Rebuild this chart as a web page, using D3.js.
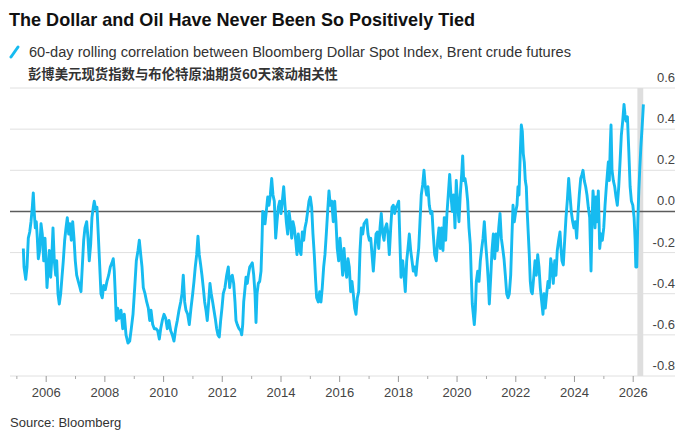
<!DOCTYPE html>
<html>
<head>
<meta charset="utf-8">
<script src="https://cdn.jsdelivr.net/npm/d3@7"></script>
<style>
  html, body { margin: 0; padding: 0; background: #fff; }
  svg { display: block; font-family: "Liberation Sans", Arial, sans-serif; }
</style>
</head>
<body>
<div id="chart"></div>
<script>
// texts
var title = "The Dollar and Oil Have Never Been So Positively Tied";
var legendEn = "60-day rolling correlation between Bloomberg Dollar Spot Index, Brent crude futures";
var legendZh = "彭博美元现货指数与布伦特原油期货60天滚动相关性";
var source = "Source: Bloomberg";

// axes
var yTicks = [-0.8, -0.6, -0.4, -0.2, 0, 0.2, 0.4, 0.6];
var yTickLabels = ["-0.8", "-0.6", "-0.4", "-0.2", "0.0", "0.2", "0.4", "0.6"];
var xMajorYears = [2006, 2008, 2010, 2012, 2014, 2016, 2018, 2020, 2022, 2024, 2026];
var xMinorYears = [2005, 2007, 2009, 2011, 2013, 2015, 2017, 2019, 2021, 2023, 2025];

// shaded period (decimal years)
var highlight = [2026.16, 2026.36];

// observation dates, decimal years
var obsYears = [
  2005.237,2005.261,2005.319,2005.363,2005.407,2005.455,2005.499,2005.543,2005.577,2005.612,2005.646,2005.680,2005.714,2005.748,2005.795,2005.840,2005.884,2005.932,2005.976,
  2006.010,2006.044,2006.089,2006.123,2006.170,2006.204,2006.249,2006.293,2006.341,2006.375,2006.419,2006.463,2006.511,2006.555,2006.600,2006.647,2006.692,2006.736,2006.784,2006.828,2006.872,2006.920,2006.964,
  2007.009,2007.056,2007.111,2007.169,2007.203,2007.247,2007.295,2007.339,2007.397,2007.441,2007.485,2007.533,2007.577,2007.622,2007.656,2007.704,2007.748,2007.792,2007.840,2007.884,2007.928,2007.976,
  2008.031,2008.089,2008.147,2008.201,2008.259,2008.303,2008.337,2008.371,2008.406,2008.453,2008.497,2008.566,2008.624,2008.678,2008.736,2008.804,2008.862,2008.916,2008.974,
  2009.032,2009.087,2009.145,2009.189,2009.237,2009.281,2009.325,2009.383,2009.441,2009.496,2009.543,2009.588,2009.646,2009.700,2009.758,2009.816,2009.871,2009.918,2009.973,
  2010.031,2010.089,2010.143,2010.201,2010.259,2010.314,2010.371,2010.429,2010.484,2010.542,2010.600,2010.644,2010.688,2010.736,2010.780,2010.838,2010.893,2010.951,
  2011.009,2011.053,2011.097,2011.145,2011.189,2011.233,2011.281,2011.325,2011.370,2011.417,2011.462,2011.506,2011.554,2011.598,2011.642,2011.690,2011.734,2011.779,2011.826,2011.871,2011.915,2011.963,
  2012.007,2012.051,2012.109,2012.167,2012.222,2012.269,2012.313,2012.358,2012.405,2012.450,2012.484,2012.528,2012.586,2012.644,2012.678,2012.712,2012.746,2012.780,2012.825,2012.869,2012.903,2012.951,2012.995,
  2013.039,2013.087,2013.131,2013.165,2013.199,2013.244,2013.291,2013.336,2013.370,2013.394,2013.428,2013.472,2013.516,2013.564,2013.608,2013.653,2013.700,2013.744,2013.789,2013.836,2013.881,2013.925,2013.973,
  2014.017,2014.061,2014.109,2014.153,2014.198,2014.245,2014.290,2014.334,2014.382,2014.426,2014.470,2014.518,2014.562,2014.607,2014.654,2014.699,2014.743,2014.791,2014.835,2014.879,2014.927,2014.971,
  2015.015,2015.063,2015.107,2015.152,2015.199,2015.233,2015.288,2015.336,2015.380,2015.424,2015.472,2015.516,2015.561,2015.608,2015.653,2015.697,2015.745,2015.799,2015.847,2015.891,2015.935,2015.983,
  2016.027,2016.072,2016.119,2016.164,2016.208,2016.256,2016.300,2016.344,2016.392,2016.436,2016.481,2016.528,2016.572,2016.617,2016.664,2016.709,2016.753,2016.801,2016.845,2016.889,2016.937,2016.981,
  2017.026,2017.073,2017.118,2017.162,2017.210,2017.254,2017.298,2017.346,2017.390,2017.434,2017.482,2017.527,2017.571,2017.619,2017.663,2017.707,2017.755,2017.799,2017.843,2017.891,2017.935,2017.980,
  2018.027,2018.072,2018.106,2018.164,2018.208,2018.252,2018.300,2018.344,2018.389,2018.436,2018.481,2018.525,2018.572,2018.617,2018.661,2018.709,2018.753,2018.797,2018.845,2018.889,2018.934,2018.981,
  2019.026,2019.070,2019.118,2019.162,2019.206,2019.254,2019.309,2019.356,2019.400,2019.445,2019.492,2019.537,2019.581,2019.629,2019.673,2019.717,2019.765,2019.809,2019.854,2019.901,2019.946,2019.990,
  2020.038,2020.082,2020.126,2020.174,2020.208,2020.242,2020.286,2020.331,2020.378,2020.423,2020.467,2020.501,2020.535,2020.569,2020.603,2020.637,2020.672,2020.719,2020.763,2020.808,2020.855,2020.900,2020.944,2020.992,
  2021.036,2021.080,2021.114,2021.162,2021.206,2021.251,2021.298,2021.343,2021.387,2021.435,2021.479,2021.523,2021.571,2021.615,2021.660,2021.707,2021.752,2021.796,2021.843,2021.888,2021.922,2021.966,
  2022.014,2022.058,2022.092,2022.126,2022.171,2022.205,2022.239,2022.273,2022.307,2022.341,2022.375,2022.409,2022.443,2022.477,2022.511,2022.545,2022.580,2022.627,2022.672,2022.716,2022.764,2022.808,2022.852,2022.900,2022.944,2022.978,
  2023.023,2023.070,2023.115,2023.159,2023.207,2023.251,2023.295,2023.343,2023.387,2023.431,2023.479,2023.524,2023.558,2023.592,2023.636,2023.684,2023.728,2023.772,2023.820,2023.864,2023.908,2023.956,
  2024.001,2024.045,2024.093,2024.137,2024.181,2024.229,2024.273,2024.307,2024.351,2024.399,2024.443,2024.488,2024.535,2024.580,2024.614,2024.648,2024.682,2024.716,2024.750,2024.784,2024.828,2024.876,2024.921,2024.965,
  2025.013,2025.057,2025.101,2025.135,2025.169,2025.203,2025.237,2025.261,2025.295,2025.340,2025.387,2025.431,2025.476,2025.524,2025.568,2025.612,2025.660,2025.704,2025.738,2025.772,2025.820,2025.868,2025.912,2025.956,
  2026.004,2026.048,2026.082,2026.106,2026.140,2026.174,2026.208,2026.242,2026.277,2026.321,2026.365
];

// 60-day rolling correlation
var corrValues = [
  -0.18,-0.27,-0.33,-0.27,-0.13,-0.10,-0.05,0.02,0.09,-0.01,-0.08,-0.05,-0.13,-0.23,-0.19,-0.06,-0.11,-0.24,-0.13,
  -0.24,-0.37,-0.27,-0.19,-0.32,-0.24,-0.08,-0.24,-0.31,-0.24,-0.40,-0.45,-0.40,-0.32,-0.24,-0.14,-0.08,-0.03,-0.11,-0.06,-0.14,-0.05,-0.13,
  -0.24,-0.31,-0.34,-0.37,-0.39,-0.27,-0.14,-0.08,-0.05,-0.13,-0.24,-0.16,-0.03,0.02,0.05,0.01,0.02,-0.11,-0.26,-0.40,-0.42,-0.36,
  -0.38,-0.34,-0.31,-0.27,-0.25,-0.23,-0.29,-0.40,-0.53,-0.47,-0.52,-0.48,-0.57,-0.50,-0.60,-0.64,-0.63,-0.57,-0.50,
  -0.37,-0.24,-0.19,-0.14,-0.21,-0.27,-0.37,-0.40,-0.44,-0.47,-0.53,-0.48,-0.55,-0.57,-0.57,-0.58,-0.62,-0.57,-0.53,
  -0.50,-0.52,-0.57,-0.53,-0.58,-0.60,-0.63,-0.57,-0.53,-0.48,-0.44,-0.40,-0.31,-0.44,-0.48,-0.50,-0.55,-0.47,
  -0.40,-0.34,-0.27,-0.21,-0.12,-0.21,-0.26,-0.31,-0.37,-0.44,-0.48,-0.53,-0.44,-0.35,-0.40,-0.44,-0.48,-0.52,-0.57,-0.60,-0.61,-0.53,
  -0.47,-0.40,-0.37,-0.31,-0.27,-0.37,-0.32,-0.31,-0.35,-0.44,-0.53,-0.55,-0.57,-0.58,-0.60,-0.55,-0.44,-0.39,-0.32,-0.35,-0.31,-0.27,-0.26,
  -0.25,-0.31,-0.40,-0.54,-0.40,-0.35,-0.34,-0.29,-0.14,0.00,-0.01,-0.06,0.00,0.07,0.03,0.08,0.16,0.08,0.05,-0.13,-0.05,0.02,0.05,
  -0.01,0.05,0.12,0.03,-0.05,-0.11,0.00,-0.05,-0.13,-0.05,-0.08,-0.14,-0.21,-0.11,-0.19,-0.21,-0.10,-0.14,-0.08,-0.05,0.00,0.05,
  0.07,0.02,-0.11,-0.21,-0.34,-0.42,-0.44,-0.39,-0.44,-0.37,-0.27,-0.21,-0.11,0.00,0.10,0.03,0.05,-0.05,0.05,-0.05,-0.18,-0.24,
  -0.13,-0.21,-0.31,-0.18,-0.27,-0.32,-0.23,-0.27,-0.39,-0.34,-0.40,-0.47,-0.50,-0.42,-0.39,-0.19,-0.08,-0.11,-0.06,-0.05,-0.04,-0.11,
  -0.14,-0.13,-0.21,-0.29,-0.19,-0.11,-0.10,-0.18,-0.08,-0.01,-0.11,-0.14,-0.08,-0.06,-0.11,-0.21,-0.08,0.02,0.03,-0.01,0.02,0.03,
  0.05,-0.16,-0.32,-0.24,-0.31,-0.39,-0.24,-0.18,-0.11,-0.19,-0.24,-0.29,-0.27,-0.31,-0.24,-0.18,-0.05,0.08,0.13,0.20,0.12,0.08,
  0.12,0.03,-0.01,0.00,-0.11,-0.21,-0.24,-0.14,-0.08,-0.18,-0.08,-0.19,-0.03,-0.14,-0.01,0.08,0.18,0.08,0.00,0.08,-0.08,0.15,
  0.03,-0.05,0.08,0.18,0.27,0.15,0.16,0.12,0.05,-0.08,-0.16,-0.32,-0.45,-0.50,-0.55,-0.48,-0.34,-0.29,-0.34,-0.24,-0.18,-0.13,-0.05,-0.16,
  -0.24,-0.34,-0.45,-0.32,-0.19,-0.11,-0.23,-0.11,-0.19,-0.08,-0.01,-0.13,-0.18,-0.23,-0.31,-0.40,-0.42,-0.40,-0.31,-0.11,0.03,-0.05,
  0.00,0.03,0.12,0.08,0.29,0.42,0.39,0.28,0.24,0.15,0.12,-0.01,-0.11,-0.21,-0.34,-0.39,-0.40,-0.32,-0.24,-0.31,-0.21,-0.27,-0.37,-0.44,-0.50,-0.40,
  -0.47,-0.40,-0.34,-0.37,-0.23,-0.27,-0.35,-0.24,-0.31,-0.19,-0.14,-0.10,-0.18,-0.24,-0.26,-0.14,-0.03,0.05,0.16,0.08,0.00,-0.05,
  -0.08,-0.05,-0.13,-0.01,0.08,0.16,0.18,0.20,0.15,0.12,0.08,0.02,-0.03,-0.29,-0.05,0.10,0.03,-0.08,0.07,-0.05,0.10,-0.18,-0.11,-0.14,
  -0.08,0.03,0.12,0.18,0.24,0.15,0.33,0.42,0.20,0.15,0.12,0.07,0.03,0.12,0.24,0.37,0.44,0.52,0.47,0.44,0.46,0.29,0.12,0.05,
  0.03,-0.03,-0.14,-0.27,-0.27,-0.05,0.10,0.21,0.31,0.41,0.52
];

if (obsYears.length !== corrValues.length) console.error("length mismatch", obsYears.length, corrValues.length);

function yearToDate(yf) {
  var yr = Math.floor(yf);
  var start = new Date(yr, 0, 1), end = new Date(yr + 1, 0, 1);
  return new Date(+start + (yf - yr) * (end - start));
}

var W = 700, H = 432;
var gridLeft = 10, gridRight = 675;
var cyan = "#16bbf0";

var svg = d3.select("#chart").append("svg")
  .attr("width", W)
  .attr("height", H);

var x = d3.scaleTime()
  .domain([yearToDate(2006), yearToDate(2026)])
  .range([45.7, 632.7]);
var y = d3.scaleLinear()
  .domain([-0.8, 0.6])
  .range([376, 88]);

// gridlines
svg.append("g").selectAll("line")
  .data(yTicks.filter(function (v) { return v !== 0; }))
  .enter().append("line")
    .attr("x1", gridLeft).attr("x2", gridRight)
    .attr("y1", function (d) { return y(d); })
    .attr("y2", function (d) { return y(d); })
    .attr("stroke", "#e0e0e0")
    .attr("stroke-width", 1);

// shaded period
svg.append("rect")
  .attr("x", x(yearToDate(highlight[0])))
  .attr("width", x(yearToDate(highlight[1])) - x(yearToDate(highlight[0])))
  .attr("y", y(0.6))
  .attr("height", y(-0.8) - y(0.6))
  .attr("fill", "#dedede");

// zero line
svg.append("line")
  .attr("x1", gridLeft).attr("x2", gridRight)
  .attr("y1", y(0)).attr("y2", y(0))
  .attr("stroke", "#5c5c5c")
  .attr("stroke-width", 1.5);

// y labels, sitting above gridlines on the right
svg.append("g").selectAll("text")
  .data(yTicks)
  .enter().append("text")
    .attr("x", gridRight)
    .attr("y", function (d) { return y(d) - 6; })
    .attr("text-anchor", "end")
    .attr("font-size", 13)
    .attr("fill", "#444")
    .text(function (d, i) { return yTickLabels[i]; });

// x axis: major + minor ticks
var xMajor = svg.append("g")
  .attr("transform", "translate(0," + y(-0.8) + ")")
  .call(d3.axisBottom(x)
    .tickValues(xMajorYears.map(yearToDate))
    .tickSize(6)
    .tickPadding(5.5)
    .tickFormat(d3.timeFormat("%Y")));
xMajor.select(".domain").remove();
xMajor.selectAll("line").attr("stroke", "#999");
xMajor.selectAll("text")
  .attr("font-size", 13)
  .attr("font-family", "Liberation Sans, Arial, sans-serif")
  .attr("fill", "#444");

var xMinor = svg.append("g")
  .attr("transform", "translate(0," + y(-0.8) + ")")
  .call(d3.axisBottom(x)
    .tickValues(xMinorYears.map(yearToDate))
    .tickSize(3)
    .tickFormat(""));
xMinor.select(".domain").remove();
xMinor.selectAll("line").attr("stroke", "#aaa");

// the series
var series = obsYears.map(function (t, i) {
  return { date: yearToDate(t), v: corrValues[i] };
});
var line = d3.line()
  .x(function (d) { return x(d.date); })
  .y(function (d) { return y(d.v); });

svg.append("path")
  .datum(series)
  .attr("d", line)
  .attr("fill", "none")
  .attr("stroke", cyan)
  .attr("stroke-width", 2.9)
  .attr("stroke-linejoin", "round");

// title
svg.append("text")
  .attr("x", 9)
  .attr("y", 26)
  .attr("font-size", 18.5)
  .attr("font-weight", "bold")
  .attr("fill", "#111")
  .attr("textLength", 466)
  .attr("lengthAdjust", "spacingAndGlyphs")
  .text(title);

// legend
svg.append("line")
  .attr("x1", 11).attr("y1", 57)
  .attr("x2", 18).attr("y2", 47)
  .attr("stroke", cyan)
  .attr("stroke-width", 3)
  .attr("stroke-linecap", "round");

svg.append("text")
  .attr("x", 29)
  .attr("y", 56.5)
  .attr("font-size", 14)
  .attr("fill", "#333")
  .attr("textLength", 542)
  .attr("lengthAdjust", "spacingAndGlyphs")
  .text(legendEn);

svg.append("text")
  .attr("x", 28)
  .attr("y", 79)
  .attr("font-size", 13.5)
  .attr("font-weight", "bold")
  .attr("font-family", "'Noto Sans CJK SC', sans-serif")
  .attr("fill", "#333")
  .attr("textLength", 310)
  .attr("lengthAdjust", "spacingAndGlyphs")
  .text(legendZh);

// source
svg.append("text")
  .attr("x", 10)
  .attr("y", 427)
  .attr("font-size", 13)
  .attr("fill", "#333")
  .text(source);
</script>
</body>
</html>
